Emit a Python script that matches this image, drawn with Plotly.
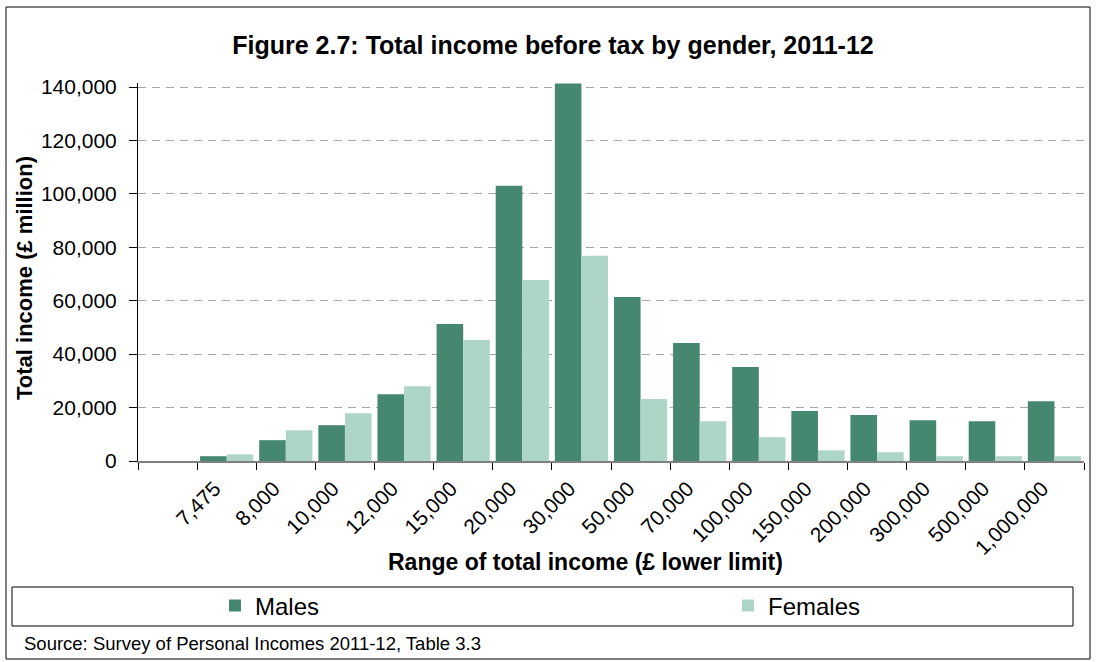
import plotly.graph_objects as go

# Income bands (lower limit, £); the first slot on the axis is left empty
bands = [" ", "7,475", "8,000", "10,000", "12,000", "15,000", "20,000", "30,000",
         "50,000", "70,000", "100,000", "150,000", "200,000", "300,000",
         "500,000", "1,000,000"]

# Total income before tax, £ million
males = [None, 1800, 7800, 13400, 25000, 51300, 103000, 141300, 61400,
         44200, 35200, 18700, 17200, 15300, 14900, 22400]
females = [None, 2500, 11500, 17900, 28000, 45300, 67800, 76800, 23200,
           14900, 8900, 4000, 3300, 1800, 1800, 1800]

y_ticks = [0, 20000, 40000, 60000, 80000, 100000, 120000, 140000]
y_max = 141500

FONT = "Arial, Liberation Sans, sans-serif"
W, H = 1096, 662
L, R, T, B = 138, 12, 83, 201
PW, PH = W - L - R, H - T - B


def px(x):
    return (x - L) / PW


def py(y):
    return (H - B - y) / PH


fig = go.Figure()
fig.add_trace(go.Bar(name="Males", x=bands, y=males, marker_color="#45876F",
                     marker_line_width=0, legend="legend"))
fig.add_trace(go.Bar(name="Females", x=bands, y=females, marker_color="#AED6C6",
                     marker_line_width=0, legend="legend2"))

legend_common = dict(orientation="h", xanchor="left", y=py(606), yanchor="middle",
                     font=dict(size=24, family=FONT),
                     bgcolor="rgba(0,0,0,0)", borderwidth=0)

fig.update_layout(
    width=W, height=H,
    margin=dict(l=L, r=R, t=T, b=B),
    paper_bgcolor="white", plot_bgcolor="white",
    barmode="group", bargap=0.1, bargroupgap=0,
    font=dict(family=FONT, color="black"),
    title=dict(text="<b>Figure 2.7: Total income before tax by gender, 2011-12</b>",
               x=px(553), xref="paper", xanchor="center",
               y=1 - 45 / H, yref="container", yanchor="middle",
               font=dict(size=25, family=FONT)),
    showlegend=True,
    legend=dict(x=px(215), **legend_common),
    legend2=dict(x=px(728), **legend_common),
)

fig.update_xaxes(
    type="category", tickson="boundaries", ticks="outside", ticklen=7,
    tickcolor="black", tickwidth=1, showline=True, linecolor="#808080",
    linewidth=2, showgrid=False, tickangle=-45,
    ticklabelshift=-12, ticklabelstandoff=5,
    tickfont=dict(size=21, family=FONT), range=[-0.5, len(bands) - 0.5],
)
fig.update_yaxes(
    range=[0, y_max], tickvals=y_ticks, tickformat=",d",
    ticks="outside", ticklen=8, tickcolor="black", ticklabelstandoff=8,
    showline=True, linecolor="black", linewidth=1,
    showgrid=True, gridcolor="#A6A6A6", griddash="8px,6px", gridwidth=1,
    zeroline=False, tickfont=dict(size=21, family=FONT),
)

annotations = [
    dict(text="<b>Range of total income (£ lower limit)</b>", x=px(585), y=py(562),
         xref="paper", yref="paper", xanchor="center", yanchor="middle",
         showarrow=False, font=dict(size=23, family=FONT)),
    dict(text="<b>Total income (£ million)</b>", x=px(24), y=py(278),
         xref="paper", yref="paper", xanchor="center", yanchor="middle",
         textangle=-90, showarrow=False, font=dict(size=22, family=FONT)),
    dict(text="Source: Survey of Personal Incomes 2011-12, Table 3.3",
         x=px(22), y=py(643), xref="paper", yref="paper",
         xanchor="left", yanchor="middle", showarrow=False,
         font=dict(size=18.5, family=FONT)),
]
fig.update_layout(annotations=annotations)

# Outer chart frame and legend box
fig.add_shape(type="rect", xref="paper", yref="paper",
              x0=px(6), x1=px(1090), y0=py(659), y1=py(7),
              line=dict(color="black", width=1), layer="below")
fig.add_shape(type="rect", xref="paper", yref="paper",
              x0=px(12), x1=px(1073), y0=py(626), y1=py(587),
              line=dict(color="black", width=1), layer="below")

fig.write_html("out.html")
